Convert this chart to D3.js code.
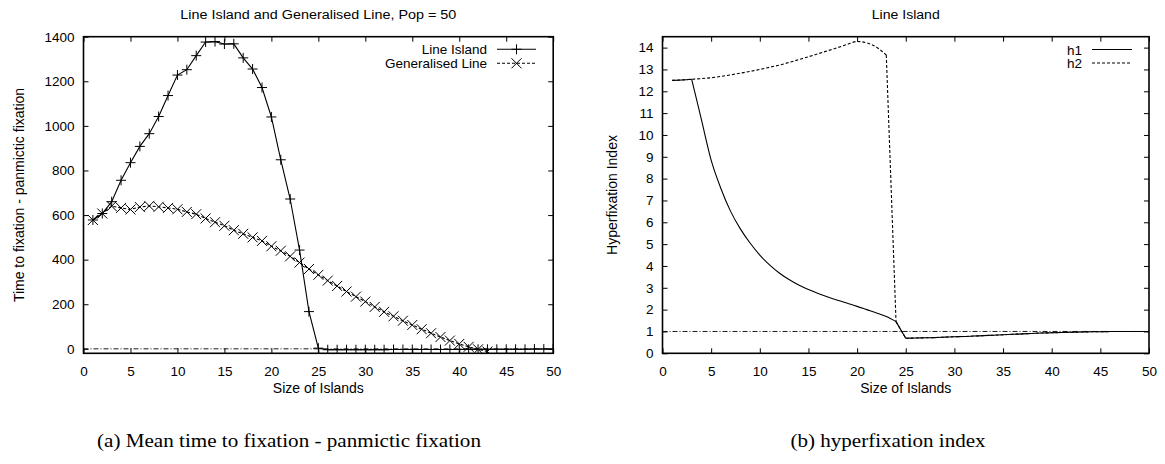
<!DOCTYPE html>
<html>
<head>
<meta charset="utf-8">
<script src="https://cdn.jsdelivr.net/npm/d3@7"></script>
<style>
html,body{margin:0;padding:0;background:#fff;}
svg{display:block;}
</style>
</head>
<body>
<svg id="chart" width="1165" height="464"></svg>
<script>
// ---------------- data ----------------
const islandSizes = [1,2,3,4,5,6,7,8,9,10,11,12,13,14,15,16,17,18,19,20,21,22,23,24,25,
  26,27,28,29,30,31,32,33,34,35,36,37,38,39,40,41,42,43,44,45,46,47,48,49,50];

const lineIsland = [578,607,660,756,835,908,965,1042,1136,1228,1252,1315,1376,1378,1367,1368,1305,1255,1172,1040,
  848,672,443,167,3,-4,-4,-4,-4,-4,-4,-4,-3,-3,-3,-3,-3,-3,-3,-3,-2,-2,-2,-2,-2,-2,-2,-1,-1,-1];

const generalisedSizes = [1,2,3,4,5,6,7,8,9,10,11,12,13,14,15,16,17,18,19,20,21,22,23,24,25,
  26,27,28,29,30,31,32,33,34,35,36,37,38,39,40,41,42,43];
const generalisedLine = [578,607,640,632,625,636,641,637,632,626,614,604,585,568,552,532,516,500,484,460,
  440,415,387,358,332,306,282,257,234,212,188,166,146,126,107,88,70,53,37,22,9,-2,-12];

const h1 = [12.5,12.52,12.55,10.7,8.85,7.55,6.5,5.7,5.05,4.5,4.05,3.68,3.38,3.13,2.92,2.74,2.58,2.43,2.29,2.15,
  2.0,1.85,1.68,1.45,0.69,0.70,0.71,0.72,0.74,0.76,0.77,0.79,0.81,0.83,0.85,0.87,0.89,0.91,0.93,0.94,
  0.955,0.965,0.975,0.985,0.99,0.995,1.0,1.0,1.0,1.0];
const h2 = [12.5,12.52,12.55,12.58,12.62,12.68,12.75,12.83,12.91,13.0,13.1,13.2,13.32,13.45,13.58,13.72,13.86,14.0,14.15,14.28,
  14.22,14.02,13.66,1.45,0.69,0.70,0.71,0.72,0.74,0.76,0.77,0.79,0.81,0.83,0.85,0.87,0.89,0.91,0.93,0.94,
  0.955,0.965,0.975,0.985,0.99,0.995,1.0,1.0,1.0,1.0];
// sizes where the curves have a sharp corner
const h1Corners = [3, 24, 25];
const h2Corners = [23, 24, 25];

const xTicks = [0,5,10,15,20,25,30,35,40,45,50];
const yTicksA = [0,200,400,600,800,1000,1200,1400];
const yTicksB = [0,1,2,3,4,5,6,7,8,9,10,11,12,13,14];

const titleA = "Line Island and Generalised Line, Pop = 50";
const titleB = "Line Island";
const xLabel = "Size of Islands";
const yLabelA = "Time to fixation - panmictic fixation";
const yLabelB = "Hyperfixation Index";
const captionA = "(a) Mean time to fixation - panmictic fixation";
const captionB = "(b) hyperfixation index";
const legendA = ["Line Island", "Generalised Line"];
const legendB = ["h1", "h2"];

// ---------------- drawing ----------------
const SANS = '"Liberation Sans",Arial,Helvetica,sans-serif';
const SERIF = '"Liberation Serif","Times New Roman",serif';
const svg = d3.select("#chart");
const plotTop = 36.7, plotBottom = 353.3;
const tickLen = 5;
const dashDot = "5,2,1,2";

function segmentsOf(pts, corners) {
  if (!corners) return [pts];
  const segs = [];
  let cur = [];
  pts.forEach(p => {
    cur.push(p);
    if (corners.includes(p[0])) { segs.push(cur); cur = [p]; }
  });
  if (cur.length > 1) segs.push(cur);
  return segs;
}

function panel(o) {
  const g = svg.append("g");
  const x = d3.scaleLinear().domain([0,50]).range([o.x0, o.x1]);
  const y = d3.scaleLinear().domain(o.yDomain).range([plotBottom, plotTop]);

  const clipId = "clip" + o.id;
  svg.append("clipPath").attr("id", clipId).append("rect")
    .attr("x", o.x0).attr("y", plotTop).attr("width", o.x1 - o.x0).attr("height", plotBottom - plotTop);

  const axB = d3.axisBottom(x).tickValues(xTicks).tickSize(-tickLen).tickPadding(tickLen + 8).tickFormat(d3.format("d"));
  const axT = d3.axisTop(x).tickValues(xTicks).tickSize(-tickLen).tickFormat("");
  const axL = d3.axisLeft(y).tickValues(o.yTicks).tickSize(-tickLen).tickPadding(tickLen + 4).tickFormat(d3.format("d"));
  const axR = d3.axisRight(y).tickValues(o.yTicks).tickSize(-tickLen).tickFormat("");
  [[axB, `translate(0,${plotBottom})`], [axT, `translate(0,${plotTop})`], [axL, `translate(${o.x0},0)`], [axR, `translate(${o.x1},0)`]]
    .forEach(([a, t]) => {
      const ga = g.append("g").attr("transform", t).call(a);
      ga.select(".domain").remove();
      ga.selectAll("line").attr("stroke", "#000").attr("stroke-width", 1);
      ga.selectAll("text").style("font-size", "13.5px").style("font-family", SANS).attr("fill", "#000");
    });

  g.append("line").attr("x1", o.x0).attr("x2", o.x1)
    .attr("y1", y(o.refY)).attr("y2", y(o.refY))
    .attr("stroke", "#000").attr("stroke-width", 0.9).attr("stroke-dasharray", dashDot);

  const plot = g.append("g").attr("clip-path", `url(#${clipId})`);
  o.series.forEach(s => {
    const pts = s.xs.map((d, i) => [d, s.ys[i]]);
    const lineGen = d3.line().x(d => x(d[0])).y(d => y(d[1]))
      .curve(s.smooth ? d3.curveMonotoneX : d3.curveLinear);
    const segs = segmentsOf(pts, s.corners);
    plot.append("path")
      .attr("d", segs.map(sg => lineGen(sg)).join(""))
      .attr("fill", "none").attr("stroke", "#000").attr("stroke-width", 1.1)
      .attr("stroke-dasharray", s.dash || null);
    if (s.marker) {
      plot.selectAll(null).data(pts).enter().append("path")
        .attr("transform", d => `translate(${x(d[0])},${y(d[1])})`)
        .attr("d", s.marker).attr("fill", "none").attr("stroke", "#000").attr("stroke-width", 1);
    }
  });

  g.append("rect").attr("x", o.x0).attr("y", plotTop).attr("width", o.x1 - o.x0).attr("height", plotBottom - plotTop)
    .attr("fill", "none").attr("stroke", "#000").attr("stroke-width", 1.6);

  o.series.forEach((s, i) => {
    const ly = o.legendY[i];
    g.append("text").attr("x", o.legendTextX).attr("y", ly + 5).attr("text-anchor", "end")
      .style("font-family", SANS).style("font-size", "13.5px").text(s.name);
    g.append("line").attr("x1", o.legendLine[0]).attr("x2", o.legendLine[1]).attr("y1", ly).attr("y2", ly)
      .attr("stroke", "#000").attr("stroke-width", 1.1).attr("stroke-dasharray", s.dash || null);
    if (s.marker) {
      g.append("path").attr("transform", `translate(${(o.legendLine[0] + o.legendLine[1]) / 2},${ly})`)
        .attr("d", s.marker).attr("fill", "none").attr("stroke", "#000").attr("stroke-width", 1);
    }
  });

  const cx = (o.x0 + o.x1) / 2;
  g.append("text").attr("x", cx).attr("y", 18.5).attr("text-anchor", "middle")
    .style("font-family", SANS).style("font-size", "12px")
    .attr("textLength", o.titleLen).attr("lengthAdjust", "spacingAndGlyphs").text(o.title);
  g.append("text").attr("x", cx).attr("y", 393).attr("text-anchor", "middle")
    .style("font-family", SANS).style("font-size", "14px").text(xLabel);
  g.append("text").attr("transform", `translate(${o.yLabelX},${(plotTop + plotBottom) / 2}) rotate(-90)`)
    .attr("text-anchor", "middle").style("font-family", SANS).style("font-size", "14px").text(o.yLabel);
  g.append("text").attr("x", o.captionX).attr("y", 447).attr("text-anchor", "middle")
    .style("font-family", SERIF).style("font-size", "18px")
    .attr("textLength", o.captionLen).attr("lengthAdjust", "spacingAndGlyphs").text(o.caption);
}

const plus = "M-5,0H5M0,-5V5";
const cross = "M-5,-5L5,5M-5,5L5,-5";

panel({
  id: "A", x0: 83.5, x1: 553.2, yDomain: [-20, 1400], yTicks: yTicksA, refY: 0,
  series: [
    {name: legendA[0], xs: islandSizes, ys: lineIsland, marker: plus},
    {name: legendA[1], xs: generalisedSizes, ys: generalisedLine, marker: cross, dash: "3,2"}
  ],
  legendY: [49.3, 63.3], legendTextX: 487, legendLine: [497, 536],
  title: titleA, titleLen: 276, yLabel: yLabelA, yLabelX: 24,
  caption: captionA, captionX: 289, captionLen: 384
});

panel({
  id: "B", x0: 662.5, x1: 1149, yDomain: [0, 14.5], yTicks: yTicksB, refY: 1,
  series: [
    {name: legendB[0], xs: islandSizes, ys: h1, smooth: true, corners: h1Corners},
    {name: legendB[1], xs: islandSizes, ys: h2, dash: "3,2", smooth: true, corners: h2Corners}
  ],
  legendY: [49.5, 63], legendTextX: 1082, legendLine: [1092, 1132],
  title: titleB, titleLen: 68, yLabel: yLabelB, yLabelX: 617,
  caption: captionB, captionX: 888, captionLen: 195
});
</script>
</body>
</html>
